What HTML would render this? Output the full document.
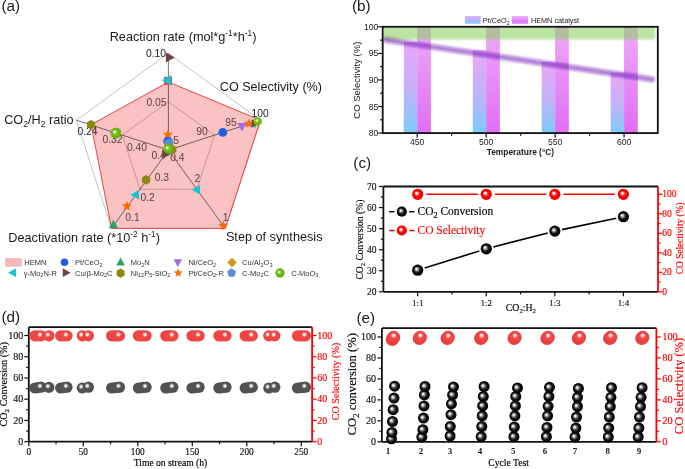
<!DOCTYPE html>
<html><head><meta charset="utf-8"><style>
html,body{margin:0;padding:0;background:#fff;}
svg{display:block;}
</style></head><body>
<svg width="685" height="469" viewBox="0 0 685 469">
<defs>
<radialGradient id="gsph" cx="0.5" cy="0.5" r="0.5" fx="0.36" fy="0.36">
 <stop offset="0" stop-color="#ffffff"/><stop offset="0.12" stop-color="#f2fae6"/><stop offset="0.42" stop-color="#7cc41c"/><stop offset="0.7" stop-color="#6ab80c"/><stop offset="1" stop-color="#60ac08"/>
</radialGradient>
<radialGradient id="gblk" cx="0.5" cy="0.5" r="0.5" fx="0.37" fy="0.37">
 <stop offset="0" stop-color="#ffffff"/><stop offset="0.13" stop-color="#ececec"/><stop offset="0.4" stop-color="#5a5a5a"/><stop offset="0.6" stop-color="#0c0c0c"/><stop offset="1" stop-color="#000"/>
</radialGradient>
<radialGradient id="gblk2" cx="0.5" cy="0.5" r="0.5" fx="0.36" fy="0.4">
 <stop offset="0" stop-color="#ffffff"/><stop offset="0.12" stop-color="#f2f2f2"/><stop offset="0.38" stop-color="#6a6a6a"/><stop offset="0.62" stop-color="#121212"/><stop offset="1" stop-color="#000"/>
</radialGradient>
<radialGradient id="gred" cx="0.5" cy="0.5" r="0.5" fx="0.37" fy="0.37">
 <stop offset="0" stop-color="#ffffff"/><stop offset="0.14" stop-color="#fff0f0"/><stop offset="0.42" stop-color="#ff3a3a"/><stop offset="0.58" stop-color="#ff0000"/><stop offset="1" stop-color="#f00000"/>
</radialGradient>
<radialGradient id="gredd" cx="0.5" cy="0.5" r="0.5" fx="0.45" fy="0.35">
 <stop offset="0" stop-color="#ffffff"/><stop offset="0.22" stop-color="#fbd0d0"/><stop offset="0.42" stop-color="#f04a4a"/><stop offset="1" stop-color="#e83c3c"/>
</radialGradient>
<radialGradient id="grede" cx="0.5" cy="0.5" r="0.5" fx="0.5" fy="0.3">
 <stop offset="0" stop-color="#ffffff"/><stop offset="0.2" stop-color="#fbd0d0"/><stop offset="0.42" stop-color="#f04a4a"/><stop offset="1" stop-color="#e83c3c"/>
</radialGradient>
<radialGradient id="ggry" cx="0.5" cy="0.5" r="0.5" fx="0.45" fy="0.35">
 <stop offset="0" stop-color="#ffffff"/><stop offset="0.22" stop-color="#c8c8c8"/><stop offset="0.42" stop-color="#585858"/><stop offset="1" stop-color="#4a4a4a"/>
</radialGradient>
<linearGradient id="gpt" x1="0" y1="0" x2="0" y2="1">
 <stop offset="0" stop-color="#eaa6f6"/><stop offset="0.5" stop-color="#c4b2f8"/><stop offset="1" stop-color="#7ccbfb"/>
</linearGradient>
<linearGradient id="ghe" x1="0" y1="0" x2="0" y2="1">
 <stop offset="0" stop-color="#eeaaf8"/><stop offset="1" stop-color="#e06ef4"/>
</linearGradient>
<linearGradient id="gptl" x1="0" y1="0" x2="0" y2="1">
 <stop offset="0" stop-color="#e2a8f4"/><stop offset="1" stop-color="#82cafa"/>
</linearGradient>
<linearGradient id="ghel" x1="0" y1="0" x2="0" y2="1">
 <stop offset="0" stop-color="#eca6f8"/><stop offset="1" stop-color="#e070f4"/>
</linearGradient>
<clipPath id="clipB"><rect x="384.1" y="28.1" width="273" height="20"/></clipPath>
<radialGradient id="ghl" cx="0.5" cy="0.5" r="0.5"><stop offset="0" stop-color="#fff" stop-opacity="1"/><stop offset="0.3" stop-color="#fff" stop-opacity="0.9"/><stop offset="1" stop-color="#fff" stop-opacity="0"/></radialGradient>
<filter id="blur1" x="-10%" y="-100%" width="120%" height="300%"><feGaussianBlur stdDeviation="1.3"/></filter>
</defs>
<rect width="685" height="469" fill="#fff"/>
<g id="panelA">
<text x="1.50" y="11.20" font-family='"Liberation Sans", sans-serif' font-size="15.3" fill="#222" text-anchor="start" font-weight="normal" >(a)</text>
<polygon points="168.40,53.30 260.46,120.19 225.30,228.41 111.50,228.41 76.34,120.19" fill="none" stroke="#9a9a9a" stroke-width="0.6"/>
<polygon points="168.40,101.70 214.43,135.14 196.85,189.26 139.95,189.26 122.37,135.14" fill="none" stroke="#a09090" stroke-width="0.55"/>
<line x1="168.4" y1="150.1" x2="168.40" y2="53.30" stroke="#686868" stroke-width="0.9"/>
<line x1="168.4" y1="150.1" x2="260.46" y2="120.19" stroke="#686868" stroke-width="0.9"/>
<line x1="168.4" y1="150.1" x2="225.30" y2="228.41" stroke="#686868" stroke-width="0.9"/>
<line x1="168.4" y1="150.1" x2="111.50" y2="228.41" stroke="#686868" stroke-width="0.9"/>
<line x1="168.4" y1="150.1" x2="76.34" y2="120.19" stroke="#686868" stroke-width="0.9"/>
<text x="156.00" y="57.20" font-family='"Liberation Sans", sans-serif' font-size="10.3" fill="#222" text-anchor="middle" font-weight="normal" >0.10</text>
<text x="156.40" y="105.80" font-family='"Liberation Sans", sans-serif' font-size="10.3" fill="#5e5252" text-anchor="middle" font-weight="normal" >0.05</text>
<text x="260.20" y="116.50" font-family='"Liberation Sans", sans-serif' font-size="10.3" fill="#222" text-anchor="middle" font-weight="normal" >100</text>
<text x="231.00" y="126.10" font-family='"Liberation Sans", sans-serif' font-size="10.3" fill="#5e5252" text-anchor="middle" font-weight="normal" >95</text>
<text x="202.00" y="135.00" font-family='"Liberation Sans", sans-serif' font-size="10.3" fill="#5e5252" text-anchor="middle" font-weight="normal" >90</text>
<text x="176.00" y="144.30" font-family='"Liberation Sans", sans-serif' font-size="10.3" fill="#5e5252" text-anchor="middle" font-weight="normal" >5</text>
<text x="225.60" y="221.20" font-family='"Liberation Sans", sans-serif' font-size="10.3" fill="#5e5252" text-anchor="middle" font-weight="normal" >1</text>
<text x="197.40" y="182.00" font-family='"Liberation Sans", sans-serif' font-size="10.3" fill="#5e5252" text-anchor="middle" font-weight="normal" >2</text>
<text x="132.50" y="221.00" font-family='"Liberation Sans", sans-serif' font-size="10.3" fill="#5e5252" text-anchor="middle" font-weight="normal" >0.1</text>
<text x="147.60" y="200.60" font-family='"Liberation Sans", sans-serif' font-size="10.3" fill="#5e5252" text-anchor="middle" font-weight="normal" >0.2</text>
<text x="161.80" y="180.50" font-family='"Liberation Sans", sans-serif' font-size="10.3" fill="#5e5252" text-anchor="middle" font-weight="normal" >0.3</text>
<text x="177.30" y="160.90" font-family='"Liberation Sans", sans-serif' font-size="10.3" fill="#5e5252" text-anchor="middle" font-weight="normal" >0.4</text>
<text x="87.50" y="135.20" font-family='"Liberation Sans", sans-serif' font-size="10.3" fill="#222" text-anchor="middle" font-weight="normal" >0.24</text>
<text x="112.50" y="142.60" font-family='"Liberation Sans", sans-serif' font-size="10.3" fill="#5e5252" text-anchor="middle" font-weight="normal" >0.32</text>
<text x="136.90" y="151.30" font-family='"Liberation Sans", sans-serif' font-size="10.3" fill="#5e5252" text-anchor="middle" font-weight="normal" >0.40</text>
<text x="158.60" y="159.10" font-family='"Liberation Sans", sans-serif' font-size="10.3" fill="#5e5252" text-anchor="middle" font-weight="normal" >0.4</text>
<polygon points="168.30,82.00 260.46,120.19 225.30,228.41 111.50,228.41 91.10,124.70" fill="#fac2c2" stroke="none" style="mix-blend-mode:multiply"/>
<polygon points="168.30,82.00 260.46,120.19 225.30,228.41 111.50,228.41 91.10,124.70" fill="none" stroke="#ee4444" stroke-width="1.0"/>
<rect x="164.1" y="76.8" width="8" height="8" fill="#f03c3c"/>
<polygon points="174.70,57.50 165.86,52.56 165.86,62.44" fill="#6e4444"/>
<polygon points="161.60,80.20 171.12,74.88 171.12,85.52" fill="#17c3cf"/>
<polygon points="167.90,129.40 169.28,132.71 172.85,132.99 170.13,135.32 170.96,138.81 167.90,136.94 164.84,138.81 165.67,135.32 162.95,132.99 166.52,132.71" fill="#ff6a00"/>
<polygon points="169.00,136.00 173.20,140.20 169.00,144.40 164.80,140.20" fill="#cc9a12"/>
<circle cx="167.80" cy="141.30" r="4.50" fill="#1f5fe0"/>
<polygon points="168.90,138.00 173.85,141.59 171.96,147.41 165.84,147.41 163.95,141.59" fill="#5b8fce"/>
<circle cx="222.80" cy="132.40" r="4.40" fill="#1f5fe0"/>
<polygon points="242.00,131.50 246.75,123.00 237.25,123.00" fill="#a66be0"/>
<polygon points="248.00,123.80 255.65,119.52 255.65,128.07" fill="#17c3cf"/>
<polygon points="249.10,118.40 250.48,121.71 254.05,121.99 251.33,124.32 252.16,127.81 249.10,125.94 246.04,127.81 246.87,124.32 244.15,121.99 247.72,121.71" fill="#ff6a00"/>
<polygon points="259.30,123.50 251.65,119.22 251.65,127.78" fill="#6e4444"/>
<circle cx="257.60" cy="121.40" r="4.20" fill="url(#gsph)"/>
<polygon points="223.00,230.50 226.80,223.70 219.20,223.70" fill="#a66be0"/>
<polygon points="191.50,189.70 200.00,184.95 200.00,194.45" fill="#17c3cf"/>
<polygon points="223.30,221.00 224.57,224.05 227.87,224.32 225.35,226.47 226.12,229.68 223.30,227.96 220.48,229.68 221.25,226.47 218.73,224.32 222.03,224.05" fill="#ff6a00"/>
<polygon points="113.40,219.80 118.15,228.30 108.65,228.30" fill="#2fa36b"/>
<polygon points="126.90,201.00 128.28,204.31 131.85,204.59 129.13,206.92 129.96,210.41 126.90,208.54 123.84,210.41 124.67,206.92 121.95,204.59 125.52,204.31" fill="#ff6a00"/>
<polygon points="130.50,194.70 139.00,189.95 139.00,199.45" fill="#17c3cf"/>
<polygon points="146.10,184.70 141.94,182.30 141.94,177.50 146.10,175.10 150.26,177.50 150.26,182.30" fill="#8a8a0e"/>
<polygon points="170.60,154.20 162.10,149.45 162.10,158.95" fill="#6e4444"/>
<polygon points="91.10,129.50 86.94,127.10 86.94,122.30 91.10,119.90 95.26,122.30 95.26,127.10" fill="#8a8a0e"/>
<polygon points="109.60,133.00 119.12,127.68 119.12,138.32" fill="#17c3cf"/>
<polygon points="116.30,139.00 121.43,129.82 111.17,129.82" fill="#a66be0"/>
<polygon points="116.00,127.00 117.59,130.82 121.71,131.15 118.57,133.83 119.53,137.85 116.00,135.70 112.47,137.85 113.43,133.83 110.29,131.15 114.41,130.82" fill="#ff6a00"/>
<circle cx="115.70" cy="133.00" r="5.20" fill="url(#gsph)"/>
<polygon points="172.20,154.30 168.04,151.90 168.04,147.10 172.20,144.70 176.36,147.10 176.36,151.90" fill="#8a8a0e"/>
<circle cx="168.20" cy="148.80" r="5.00" fill="url(#gsph)"/>
<text x="109.70" y="40.80" font-family='"Liberation Sans", sans-serif' font-size="12.7" fill="#1a1a1a" text-anchor="start" font-weight="normal" >Reaction rate (mol*g<tspan font-size="8.3" dy="-5">-1</tspan><tspan dy="5">*h</tspan><tspan font-size="8.3" dy="-5">-1</tspan><tspan dy="5">)</tspan></text>
<text x="219.80" y="91.00" font-family='"Liberation Sans", sans-serif' font-size="12.6" fill="#1a1a1a" text-anchor="start" font-weight="normal" >CO Selectivity (%)</text>
<text x="4.20" y="124.40" font-family='"Liberation Sans", sans-serif' font-size="12.7" fill="#1a1a1a" text-anchor="start" font-weight="normal" >CO<tspan font-size="8.5" dy="3">2</tspan><tspan dy="-3">/H</tspan><tspan font-size="8.5" dy="3">2</tspan><tspan dy="-3"> ratio</tspan></text>
<text x="8.30" y="242.40" font-family='"Liberation Sans", sans-serif' font-size="12.7" fill="#1a1a1a" text-anchor="start" font-weight="normal" >Deactivation rate (*10<tspan font-size="8.3" dy="-5">-2</tspan><tspan dy="5"> h</tspan><tspan font-size="8.3" dy="-5">-1</tspan><tspan dy="5">)</tspan></text>
<text x="225.90" y="241.00" font-family='"Liberation Sans", sans-serif' font-size="12.7" fill="#1a1a1a" text-anchor="start" font-weight="normal" >Step of synthesis</text>
<rect x="5.3" y="258.6" width="16.1" height="7.6" fill="#f6b8b8" stroke="#e7a2a2" stroke-width="0.5"/>
<text x="24.30" y="265.30" font-family='"Liberation Sans", sans-serif' font-size="7.5" fill="#333" text-anchor="start" font-weight="normal" >HEMN</text>
<circle cx="64.50" cy="262.30" r="3.80" fill="#1f5fe0"/>
<text x="75.00" y="265.30" font-family='"Liberation Sans", sans-serif' font-size="7.5" fill="#333" text-anchor="start" font-weight="normal" >Pt/CeO<tspan font-size="5.6" dy="1.8">2</tspan><tspan dy="-1.8"></tspan></text>
<polygon points="120.60,257.60 124.97,265.42 116.23,265.42" fill="#2fa36b"/>
<text x="130.80" y="265.30" font-family='"Liberation Sans", sans-serif' font-size="7.5" fill="#333" text-anchor="start" font-weight="normal" >Mo<tspan font-size="5.6" dy="1.8">2</tspan><tspan dy="-1.8">N</tspan></text>
<polygon points="177.80,267.10 182.17,259.28 173.43,259.28" fill="#a66be0"/>
<text x="188.40" y="265.30" font-family='"Liberation Sans", sans-serif' font-size="7.5" fill="#333" text-anchor="start" font-weight="normal" >Ni/CeO<tspan font-size="5.6" dy="1.8">2</tspan><tspan dy="-1.8"></tspan></text>
<polygon points="232.00,257.70 236.80,262.50 232.00,267.30 227.20,262.50" fill="#cc9a12"/>
<text x="242.10" y="265.30" font-family='"Liberation Sans", sans-serif' font-size="7.5" fill="#333" text-anchor="start" font-weight="normal" >Cu/Al<tspan font-size="5.6" dy="1.8">2</tspan><tspan dy="-1.8">O</tspan><tspan font-size="5.6" dy="1.8">3</tspan><tspan dy="-1.8"></tspan></text>
<polygon points="8.10,272.70 15.92,268.33 15.92,277.07" fill="#17c3cf"/>
<text x="23.70" y="275.60" font-family='"Liberation Sans", sans-serif' font-size="7.5" fill="#333" text-anchor="start" font-weight="normal" >γ-Mo<tspan font-size="5.6" dy="1.8">2</tspan><tspan dy="-1.8">N-R</tspan></text>
<polygon points="70.60,272.70 62.78,268.33 62.78,277.07" fill="#6e4444"/>
<text x="75.00" y="275.60" font-family='"Liberation Sans", sans-serif' font-size="7.5" fill="#333" text-anchor="start" font-weight="normal" >Cu/β-Mo<tspan font-size="5.6" dy="1.8">2</tspan><tspan dy="-1.8">C</tspan></text>
<polygon points="120.60,277.70 116.62,275.40 116.62,270.80 120.60,268.50 124.58,270.80 124.58,275.40" fill="#8a8a0e"/>
<text x="130.80" y="275.60" font-family='"Liberation Sans", sans-serif' font-size="7.5" fill="#333" text-anchor="start" font-weight="normal" >Ni<tspan font-size="5.6" dy="1.8">12</tspan><tspan dy="-1.8">P</tspan><tspan font-size="5.6" dy="1.8">5</tspan><tspan dy="-1.8">-SiO</tspan><tspan font-size="5.6" dy="1.8">2</tspan><tspan dy="-1.8"></tspan></text>
<polygon points="178.20,268.40 179.42,271.33 182.57,271.58 180.17,273.64 180.90,276.72 178.20,275.07 175.50,276.72 176.23,273.64 173.83,271.58 176.98,271.33" fill="#ff6a00"/>
<text x="188.40" y="275.60" font-family='"Liberation Sans", sans-serif' font-size="7.5" fill="#333" text-anchor="start" font-weight="normal" >Pt/CeO<tspan font-size="5.6" dy="1.8">2</tspan><tspan dy="-1.8">-R</tspan></text>
<polygon points="231.60,268.20 236.07,271.45 234.36,276.70 228.84,276.70 227.13,271.45" fill="#5b8fce"/>
<text x="242.10" y="275.60" font-family='"Liberation Sans", sans-serif' font-size="7.5" fill="#333" text-anchor="start" font-weight="normal" >C-Mo<tspan font-size="5.6" dy="1.8">2</tspan><tspan dy="-1.8">C</tspan></text>
<circle cx="280.00" cy="272.90" r="4.60" fill="url(#gsph)"/>
<text x="291.20" y="275.60" font-family='"Liberation Sans", sans-serif' font-size="7.5" fill="#333" text-anchor="start" font-weight="normal" >C-MoO<tspan font-size="5.6" dy="1.8">3</tspan><tspan dy="-1.8"></tspan></text>
</g>
<g id="panelB">
<text x="351.90" y="10.60" font-family='"Liberation Sans", sans-serif' font-size="15.3" fill="#1a1a1a" text-anchor="start" font-weight="normal" >(b)</text>
<rect x="403.78" y="42.21" width="13.4" height="90.89" fill="url(#gpt)"/>
<rect x="417.18" y="26.80" width="13.7" height="106.30" fill="url(#ghe)"/>
<rect x="472.75" y="50.19" width="13.4" height="82.91" fill="url(#gpt)"/>
<rect x="486.15" y="26.80" width="13.7" height="106.30" fill="url(#ghe)"/>
<rect x="541.71" y="61.88" width="13.4" height="71.22" fill="url(#gpt)"/>
<rect x="555.11" y="26.80" width="13.7" height="106.30" fill="url(#ghe)"/>
<rect x="610.68" y="72.51" width="13.4" height="60.59" fill="url(#gpt)"/>
<rect x="624.08" y="26.80" width="13.7" height="106.30" fill="url(#ghe)"/>
<g opacity="0.56" clip-path="url(#clipB)"><rect x="378" y="25.5" width="277" height="14.0" rx="2" fill="#88d05c" filter="url(#blur1)"/></g>
<line x1="386" y1="35.3" x2="652" y2="35.3" stroke="#9fd08c" stroke-width="0.4" stroke-dasharray="1.6,1.2"/>
<g style="mix-blend-mode:multiply"><line x1="386" y1="40" x2="652" y2="79.4" stroke="#bb92de" stroke-width="6.2" stroke-linecap="round" filter="url(#blur1)"/></g>
<line x1="386" y1="40" x2="652" y2="79.4" stroke="#7c4cae" stroke-width="0.5" stroke-dasharray="1.8,1.2"/>
<rect x="382.7" y="26.8" width="275.09999999999997" height="106.3" fill="none" stroke="#111" stroke-width="1.8"/>
<line x1="378.20" y1="133.10" x2="382.7" y2="133.10" stroke="#111" stroke-width="1.2"/>
<text x="378.30" y="136.10" font-family='"Liberation Sans", sans-serif' font-size="8.6" fill="#1a1a1a" text-anchor="end" font-weight="normal" >80</text>
<line x1="380.10" y1="119.81" x2="382.7" y2="119.81" stroke="#111" stroke-width="1.2"/>
<line x1="378.20" y1="106.52" x2="382.7" y2="106.52" stroke="#111" stroke-width="1.2"/>
<text x="378.30" y="109.52" font-family='"Liberation Sans", sans-serif' font-size="8.6" fill="#1a1a1a" text-anchor="end" font-weight="normal" >85</text>
<line x1="380.10" y1="93.24" x2="382.7" y2="93.24" stroke="#111" stroke-width="1.2"/>
<line x1="378.20" y1="79.95" x2="382.7" y2="79.95" stroke="#111" stroke-width="1.2"/>
<text x="378.30" y="82.95" font-family='"Liberation Sans", sans-serif' font-size="8.6" fill="#1a1a1a" text-anchor="end" font-weight="normal" >90</text>
<line x1="380.10" y1="66.66" x2="382.7" y2="66.66" stroke="#111" stroke-width="1.2"/>
<line x1="378.20" y1="53.38" x2="382.7" y2="53.38" stroke="#111" stroke-width="1.2"/>
<text x="378.30" y="56.38" font-family='"Liberation Sans", sans-serif' font-size="8.6" fill="#1a1a1a" text-anchor="end" font-weight="normal" >95</text>
<line x1="380.10" y1="40.09" x2="382.7" y2="40.09" stroke="#111" stroke-width="1.2"/>
<line x1="378.20" y1="26.80" x2="382.7" y2="26.80" stroke="#111" stroke-width="1.2"/>
<text x="378.30" y="29.80" font-family='"Liberation Sans", sans-serif' font-size="8.6" fill="#1a1a1a" text-anchor="end" font-weight="normal" >100</text>
<line x1="417.18" y1="133.1" x2="417.18" y2="137.60" stroke="#111" stroke-width="1.2"/>
<text x="417.18" y="145.00" font-family='"Liberation Sans", sans-serif' font-size="8.6" fill="#1a1a1a" text-anchor="middle" font-weight="normal" >450</text>
<line x1="451.66" y1="133.1" x2="451.66" y2="135.70" stroke="#111" stroke-width="1.2"/>
<line x1="486.15" y1="133.1" x2="486.15" y2="137.60" stroke="#111" stroke-width="1.2"/>
<text x="486.15" y="145.00" font-family='"Liberation Sans", sans-serif' font-size="8.6" fill="#1a1a1a" text-anchor="middle" font-weight="normal" >500</text>
<line x1="520.63" y1="133.1" x2="520.63" y2="135.70" stroke="#111" stroke-width="1.2"/>
<line x1="555.11" y1="133.1" x2="555.11" y2="137.60" stroke="#111" stroke-width="1.2"/>
<text x="555.11" y="145.00" font-family='"Liberation Sans", sans-serif' font-size="8.6" fill="#1a1a1a" text-anchor="middle" font-weight="normal" >550</text>
<line x1="589.60" y1="133.1" x2="589.60" y2="135.70" stroke="#111" stroke-width="1.2"/>
<line x1="624.08" y1="133.1" x2="624.08" y2="137.60" stroke="#111" stroke-width="1.2"/>
<text x="624.08" y="145.00" font-family='"Liberation Sans", sans-serif' font-size="8.6" fill="#1a1a1a" text-anchor="middle" font-weight="normal" >600</text>
<text x="520.40" y="155.40" font-family='"Liberation Sans", sans-serif' font-size="8.4" fill="#1a1a1a" text-anchor="middle" font-weight="bold" >Temperature (°C)</text>
<text x="0.00" y="0.00" font-family='"Liberation Sans", sans-serif' font-size="9.5" fill="#1a1a1a" text-anchor="middle" font-weight="normal" transform="translate(360.3,80.2) rotate(-90)">CO Selectivity (%)</text>
<rect x="464.9" y="16.1" width="15.8" height="7.6" fill="url(#gptl)"/>
<text x="482.80" y="23.00" font-family='"Liberation Sans", sans-serif' font-size="7.3" fill="#1a1a1a" text-anchor="start" font-weight="normal" >Pt/CeO<tspan font-size="5.2" dy="1.6">2</tspan></text>
<rect x="512" y="16.1" width="16" height="7.6" fill="url(#ghel)"/>
<text x="530.90" y="23.00" font-family='"Liberation Sans", sans-serif' font-size="7.3" fill="#1a1a1a" text-anchor="start" font-weight="normal" >HEMN catalyst</text>
</g>
<g id="panelC">
<text x="353.30" y="168.10" font-family='"Liberation Sans", sans-serif' font-size="15.3" fill="#1a1a1a" text-anchor="start" font-weight="normal" >(c)</text>
<line x1="383.4" y1="186.5" x2="658.0" y2="186.5" stroke="#111" stroke-width="1.8"/>
<line x1="383.4" y1="291.8" x2="658.0" y2="291.8" stroke="#111" stroke-width="1.8"/>
<line x1="383.4" y1="186.5" x2="383.4" y2="291.8" stroke="#111" stroke-width="1.8"/>
<line x1="658.0" y1="186.5" x2="658.0" y2="291.8" stroke="#ff0000" stroke-width="1.8"/>
<line x1="378.9" y1="291.80" x2="383.4" y2="291.80" stroke="#111" stroke-width="1.2"/>
<text x="376.40" y="294.80" font-family='"Liberation Serif", serif' font-size="9.5" fill="#1a1a1a" text-anchor="end" font-weight="normal" stroke="#000" stroke-width="0.15">20</text>
<line x1="380.79999999999995" y1="281.27" x2="383.4" y2="281.27" stroke="#111" stroke-width="1.2"/>
<line x1="378.9" y1="270.74" x2="383.4" y2="270.74" stroke="#111" stroke-width="1.2"/>
<text x="376.40" y="273.74" font-family='"Liberation Serif", serif' font-size="9.5" fill="#1a1a1a" text-anchor="end" font-weight="normal" stroke="#000" stroke-width="0.15">30</text>
<line x1="380.79999999999995" y1="260.21" x2="383.4" y2="260.21" stroke="#111" stroke-width="1.2"/>
<line x1="378.9" y1="249.68" x2="383.4" y2="249.68" stroke="#111" stroke-width="1.2"/>
<text x="376.40" y="252.68" font-family='"Liberation Serif", serif' font-size="9.5" fill="#1a1a1a" text-anchor="end" font-weight="normal" stroke="#000" stroke-width="0.15">40</text>
<line x1="380.79999999999995" y1="239.15" x2="383.4" y2="239.15" stroke="#111" stroke-width="1.2"/>
<line x1="378.9" y1="228.62" x2="383.4" y2="228.62" stroke="#111" stroke-width="1.2"/>
<text x="376.40" y="231.62" font-family='"Liberation Serif", serif' font-size="9.5" fill="#1a1a1a" text-anchor="end" font-weight="normal" stroke="#000" stroke-width="0.15">50</text>
<line x1="380.79999999999995" y1="218.09" x2="383.4" y2="218.09" stroke="#111" stroke-width="1.2"/>
<line x1="378.9" y1="207.56" x2="383.4" y2="207.56" stroke="#111" stroke-width="1.2"/>
<text x="376.40" y="210.56" font-family='"Liberation Serif", serif' font-size="9.5" fill="#1a1a1a" text-anchor="end" font-weight="normal" stroke="#000" stroke-width="0.15">60</text>
<line x1="380.79999999999995" y1="197.03" x2="383.4" y2="197.03" stroke="#111" stroke-width="1.2"/>
<line x1="378.9" y1="186.50" x2="383.4" y2="186.50" stroke="#111" stroke-width="1.2"/>
<text x="376.40" y="189.50" font-family='"Liberation Serif", serif' font-size="9.5" fill="#1a1a1a" text-anchor="end" font-weight="normal" stroke="#000" stroke-width="0.15">70</text>
<line x1="658.0" y1="291.80" x2="662.5" y2="291.80" stroke="#ff0000" stroke-width="1.2"/>
<text x="662.30" y="294.80" font-family='"Liberation Serif", serif' font-size="9.5" fill="#ff0000" text-anchor="start" font-weight="normal" stroke="#ff0000" stroke-width="0.15">0</text>
<line x1="658.0" y1="282.05" x2="660.6" y2="282.05" stroke="#ff0000" stroke-width="1.2"/>
<line x1="658.0" y1="272.30" x2="662.5" y2="272.30" stroke="#ff0000" stroke-width="1.2"/>
<text x="662.30" y="275.30" font-family='"Liberation Serif", serif' font-size="9.5" fill="#ff0000" text-anchor="start" font-weight="normal" stroke="#ff0000" stroke-width="0.15">20</text>
<line x1="658.0" y1="262.55" x2="660.6" y2="262.55" stroke="#ff0000" stroke-width="1.2"/>
<line x1="658.0" y1="252.80" x2="662.5" y2="252.80" stroke="#ff0000" stroke-width="1.2"/>
<text x="662.30" y="255.80" font-family='"Liberation Serif", serif' font-size="9.5" fill="#ff0000" text-anchor="start" font-weight="normal" stroke="#ff0000" stroke-width="0.15">40</text>
<line x1="658.0" y1="243.05" x2="660.6" y2="243.05" stroke="#ff0000" stroke-width="1.2"/>
<line x1="658.0" y1="233.30" x2="662.5" y2="233.30" stroke="#ff0000" stroke-width="1.2"/>
<text x="662.30" y="236.30" font-family='"Liberation Serif", serif' font-size="9.5" fill="#ff0000" text-anchor="start" font-weight="normal" stroke="#ff0000" stroke-width="0.15">60</text>
<line x1="658.0" y1="223.55" x2="660.6" y2="223.55" stroke="#ff0000" stroke-width="1.2"/>
<line x1="658.0" y1="213.80" x2="662.5" y2="213.80" stroke="#ff0000" stroke-width="1.2"/>
<text x="662.30" y="216.80" font-family='"Liberation Serif", serif' font-size="9.5" fill="#ff0000" text-anchor="start" font-weight="normal" stroke="#ff0000" stroke-width="0.15">80</text>
<line x1="658.0" y1="204.05" x2="660.6" y2="204.05" stroke="#ff0000" stroke-width="1.2"/>
<line x1="658.0" y1="194.30" x2="662.5" y2="194.30" stroke="#ff0000" stroke-width="1.2"/>
<text x="662.30" y="197.30" font-family='"Liberation Serif", serif' font-size="9.5" fill="#ff0000" text-anchor="start" font-weight="normal" stroke="#ff0000" stroke-width="0.15">100</text>
<line x1="417.68" y1="291.8" x2="417.68" y2="296.3" stroke="#111" stroke-width="1.2"/>
<text x="417.68" y="306.20" font-family='"Liberation Serif", serif' font-size="9" fill="#1a1a1a" text-anchor="middle" font-weight="normal" stroke="#000" stroke-width="0.15">1:1</text>
<line x1="451.97" y1="291.8" x2="451.97" y2="294.40000000000003" stroke="#111" stroke-width="1.2"/>
<line x1="486.25" y1="291.8" x2="486.25" y2="296.3" stroke="#111" stroke-width="1.2"/>
<text x="486.25" y="306.20" font-family='"Liberation Serif", serif' font-size="9" fill="#1a1a1a" text-anchor="middle" font-weight="normal" stroke="#000" stroke-width="0.15">1:2</text>
<line x1="520.54" y1="291.8" x2="520.54" y2="294.40000000000003" stroke="#111" stroke-width="1.2"/>
<line x1="554.82" y1="291.8" x2="554.82" y2="296.3" stroke="#111" stroke-width="1.2"/>
<text x="554.82" y="306.20" font-family='"Liberation Serif", serif' font-size="9" fill="#1a1a1a" text-anchor="middle" font-weight="normal" stroke="#000" stroke-width="0.15">1:3</text>
<line x1="589.11" y1="291.8" x2="589.11" y2="294.40000000000003" stroke="#111" stroke-width="1.2"/>
<line x1="623.39" y1="291.8" x2="623.39" y2="296.3" stroke="#111" stroke-width="1.2"/>
<text x="623.39" y="306.20" font-family='"Liberation Serif", serif' font-size="9" fill="#1a1a1a" text-anchor="middle" font-weight="normal" stroke="#000" stroke-width="0.15">1:4</text>
<text x="520.90" y="310.60" font-family='"Liberation Serif", serif' font-size="9.8" fill="#000" text-anchor="middle" font-weight="normal" stroke="#000" stroke-width="0.15">CO<tspan font-size="6.8" dy="2.2">2</tspan><tspan dy="-2.2">:H</tspan><tspan font-size="6.8" dy="2.2">2</tspan></text>
<text x="0.00" y="0.00" font-family='"Liberation Serif", serif' font-size="9.6" fill="#000" text-anchor="middle" font-weight="normal" transform="translate(363.3,239.6) rotate(-90)" stroke="#000" stroke-width="0.15">CO<tspan font-size="6.6" dy="2">2</tspan><tspan dy="-2"> Conversion (%)</tspan></text>
<text x="0.00" y="0.00" font-family='"Liberation Serif", serif' font-size="9.4" fill="#ff0000" text-anchor="middle" font-weight="normal" transform="translate(683.3,238.3) rotate(-90)" stroke="#ff0000" stroke-width="0.15">CO Selectivity (%)</text>
<line x1="424.67" y1="268.03" x2="479.30" y2="250.97" stroke="#000" stroke-width="1.6"/>
<line x1="426.30" y1="194.30" x2="477.67" y2="194.30" stroke="#ff0000" stroke-width="1.4"/>
<line x1="493.34" y1="246.98" x2="547.77" y2="232.92" stroke="#000" stroke-width="1.6"/>
<line x1="494.87" y1="194.30" x2="546.24" y2="194.30" stroke="#ff0000" stroke-width="1.4"/>
<line x1="561.98" y1="229.60" x2="616.27" y2="218.20" stroke="#000" stroke-width="1.6"/>
<line x1="563.44" y1="194.30" x2="614.81" y2="194.30" stroke="#ff0000" stroke-width="1.4"/>
<circle cx="417.70" cy="270.20" r="5.6" fill="url(#gblk)"/>
<circle cx="486.27" cy="248.80" r="5.6" fill="url(#gblk)"/>
<circle cx="554.84" cy="231.10" r="5.6" fill="url(#gblk)"/>
<circle cx="623.41" cy="216.70" r="5.6" fill="url(#gblk)"/>
<circle cx="417.70" cy="194.3" r="5.6" fill="url(#gred)"/>
<circle cx="486.27" cy="194.3" r="5.6" fill="url(#gred)"/>
<circle cx="554.84" cy="194.3" r="5.6" fill="url(#gred)"/>
<circle cx="623.41" cy="194.3" r="5.6" fill="url(#gred)"/>
<line x1="389.2" y1="211.7" x2="394.4" y2="211.7" stroke="#000" stroke-width="1.5"/>
<line x1="409.2" y1="211.7" x2="414.4" y2="211.7" stroke="#000" stroke-width="1.5"/>
<circle cx="401.8" cy="211.7" r="5.1" fill="url(#gblk)"/>
<line x1="389.2" y1="230.5" x2="394.4" y2="230.5" stroke="#ff0000" stroke-width="1.5"/>
<line x1="409.2" y1="230.5" x2="414.4" y2="230.5" stroke="#ff0000" stroke-width="1.5"/>
<circle cx="401.8" cy="230.5" r="5.1" fill="url(#gred)"/>
<text x="417.60" y="215.20" font-family='"Liberation Serif", serif' font-size="11.45" fill="#000" text-anchor="start" font-weight="normal" stroke="#000" stroke-width="0.15">CO<tspan font-size="8.1" dy="2.5">2</tspan><tspan dy="-2.5"> Conversion</tspan></text>
<text x="417.60" y="234.10" font-family='"Liberation Serif", serif' font-size="11.45" fill="#ff0000" text-anchor="start" font-weight="normal" stroke="#ff0000" stroke-width="0.15">CO Selectivity</text>
</g>
<g id="panelD">
<text x="1.40" y="322.40" font-family='"Liberation Sans", sans-serif' font-size="15.3" fill="#1a1a1a" text-anchor="start" font-weight="normal" >(d)</text>
<line x1="28.8" y1="327.1" x2="312.1" y2="327.1" stroke="#111" stroke-width="1.8"/>
<line x1="28.8" y1="441.7" x2="312.1" y2="441.7" stroke="#111" stroke-width="1.8"/>
<line x1="28.8" y1="327.1" x2="28.8" y2="441.7" stroke="#111" stroke-width="1.8"/>
<line x1="312.1" y1="327.1" x2="312.1" y2="441.7" stroke="#ff0000" stroke-width="1.8"/>
<line x1="24.3" y1="441.70" x2="28.8" y2="441.70" stroke="#111" stroke-width="1.2"/>
<line x1="312.1" y1="441.70" x2="316.6" y2="441.70" stroke="#ff0000" stroke-width="1.2"/>
<text x="23.20" y="444.90" font-family='"Liberation Serif", serif' font-size="10" fill="#1a1a1a" text-anchor="end" font-weight="normal" stroke="#000" stroke-width="0.15">0</text>
<text x="317.30" y="444.90" font-family='"Liberation Serif", serif' font-size="10" fill="#ff0000" text-anchor="start" font-weight="normal" stroke="#ff0000" stroke-width="0.15">0</text>
<line x1="26.2" y1="431.08" x2="28.8" y2="431.08" stroke="#111" stroke-width="1.2"/>
<line x1="312.1" y1="431.08" x2="314.70000000000005" y2="431.08" stroke="#ff0000" stroke-width="1.2"/>
<line x1="24.3" y1="420.46" x2="28.8" y2="420.46" stroke="#111" stroke-width="1.2"/>
<line x1="312.1" y1="420.46" x2="316.6" y2="420.46" stroke="#ff0000" stroke-width="1.2"/>
<text x="23.20" y="423.66" font-family='"Liberation Serif", serif' font-size="10" fill="#1a1a1a" text-anchor="end" font-weight="normal" stroke="#000" stroke-width="0.15">20</text>
<text x="317.30" y="423.66" font-family='"Liberation Serif", serif' font-size="10" fill="#ff0000" text-anchor="start" font-weight="normal" stroke="#ff0000" stroke-width="0.15">20</text>
<line x1="26.2" y1="409.84" x2="28.8" y2="409.84" stroke="#111" stroke-width="1.2"/>
<line x1="312.1" y1="409.84" x2="314.70000000000005" y2="409.84" stroke="#ff0000" stroke-width="1.2"/>
<line x1="24.3" y1="399.22" x2="28.8" y2="399.22" stroke="#111" stroke-width="1.2"/>
<line x1="312.1" y1="399.22" x2="316.6" y2="399.22" stroke="#ff0000" stroke-width="1.2"/>
<text x="23.20" y="402.42" font-family='"Liberation Serif", serif' font-size="10" fill="#1a1a1a" text-anchor="end" font-weight="normal" stroke="#000" stroke-width="0.15">40</text>
<text x="317.30" y="402.42" font-family='"Liberation Serif", serif' font-size="10" fill="#ff0000" text-anchor="start" font-weight="normal" stroke="#ff0000" stroke-width="0.15">40</text>
<line x1="26.2" y1="388.60" x2="28.8" y2="388.60" stroke="#111" stroke-width="1.2"/>
<line x1="312.1" y1="388.60" x2="314.70000000000005" y2="388.60" stroke="#ff0000" stroke-width="1.2"/>
<line x1="24.3" y1="377.98" x2="28.8" y2="377.98" stroke="#111" stroke-width="1.2"/>
<line x1="312.1" y1="377.98" x2="316.6" y2="377.98" stroke="#ff0000" stroke-width="1.2"/>
<text x="23.20" y="381.18" font-family='"Liberation Serif", serif' font-size="10" fill="#1a1a1a" text-anchor="end" font-weight="normal" stroke="#000" stroke-width="0.15">60</text>
<text x="317.30" y="381.18" font-family='"Liberation Serif", serif' font-size="10" fill="#ff0000" text-anchor="start" font-weight="normal" stroke="#ff0000" stroke-width="0.15">60</text>
<line x1="26.2" y1="367.36" x2="28.8" y2="367.36" stroke="#111" stroke-width="1.2"/>
<line x1="312.1" y1="367.36" x2="314.70000000000005" y2="367.36" stroke="#ff0000" stroke-width="1.2"/>
<line x1="24.3" y1="356.74" x2="28.8" y2="356.74" stroke="#111" stroke-width="1.2"/>
<line x1="312.1" y1="356.74" x2="316.6" y2="356.74" stroke="#ff0000" stroke-width="1.2"/>
<text x="23.20" y="359.94" font-family='"Liberation Serif", serif' font-size="10" fill="#1a1a1a" text-anchor="end" font-weight="normal" stroke="#000" stroke-width="0.15">80</text>
<text x="317.30" y="359.94" font-family='"Liberation Serif", serif' font-size="10" fill="#ff0000" text-anchor="start" font-weight="normal" stroke="#ff0000" stroke-width="0.15">80</text>
<line x1="26.2" y1="346.12" x2="28.8" y2="346.12" stroke="#111" stroke-width="1.2"/>
<line x1="312.1" y1="346.12" x2="314.70000000000005" y2="346.12" stroke="#ff0000" stroke-width="1.2"/>
<line x1="24.3" y1="335.50" x2="28.8" y2="335.50" stroke="#111" stroke-width="1.2"/>
<line x1="312.1" y1="335.50" x2="316.6" y2="335.50" stroke="#ff0000" stroke-width="1.2"/>
<text x="23.20" y="338.70" font-family='"Liberation Serif", serif' font-size="10" fill="#1a1a1a" text-anchor="end" font-weight="normal" stroke="#000" stroke-width="0.15">100</text>
<text x="317.30" y="338.70" font-family='"Liberation Serif", serif' font-size="10" fill="#ff0000" text-anchor="start" font-weight="normal" stroke="#ff0000" stroke-width="0.15">100</text>
<line x1="28.80" y1="441.7" x2="28.80" y2="446.2" stroke="#111" stroke-width="1.2"/>
<text x="28.80" y="455.20" font-family='"Liberation Serif", serif' font-size="9.3" fill="#1a1a1a" text-anchor="middle" font-weight="normal" stroke="#000" stroke-width="0.15">0</text>
<line x1="56.05" y1="441.7" x2="56.05" y2="444.3" stroke="#111" stroke-width="1.2"/>
<line x1="83.30" y1="441.7" x2="83.30" y2="446.2" stroke="#111" stroke-width="1.2"/>
<text x="83.30" y="455.20" font-family='"Liberation Serif", serif' font-size="9.3" fill="#1a1a1a" text-anchor="middle" font-weight="normal" stroke="#000" stroke-width="0.15">50</text>
<line x1="110.55" y1="441.7" x2="110.55" y2="444.3" stroke="#111" stroke-width="1.2"/>
<line x1="137.80" y1="441.7" x2="137.80" y2="446.2" stroke="#111" stroke-width="1.2"/>
<text x="137.80" y="455.20" font-family='"Liberation Serif", serif' font-size="9.3" fill="#1a1a1a" text-anchor="middle" font-weight="normal" stroke="#000" stroke-width="0.15">100</text>
<line x1="165.05" y1="441.7" x2="165.05" y2="444.3" stroke="#111" stroke-width="1.2"/>
<line x1="192.30" y1="441.7" x2="192.30" y2="446.2" stroke="#111" stroke-width="1.2"/>
<text x="192.30" y="455.20" font-family='"Liberation Serif", serif' font-size="9.3" fill="#1a1a1a" text-anchor="middle" font-weight="normal" stroke="#000" stroke-width="0.15">150</text>
<line x1="219.55" y1="441.7" x2="219.55" y2="444.3" stroke="#111" stroke-width="1.2"/>
<line x1="246.80" y1="441.7" x2="246.80" y2="446.2" stroke="#111" stroke-width="1.2"/>
<text x="246.80" y="455.20" font-family='"Liberation Serif", serif' font-size="9.3" fill="#1a1a1a" text-anchor="middle" font-weight="normal" stroke="#000" stroke-width="0.15">200</text>
<line x1="274.05" y1="441.7" x2="274.05" y2="444.3" stroke="#111" stroke-width="1.2"/>
<line x1="301.30" y1="441.7" x2="301.30" y2="446.2" stroke="#111" stroke-width="1.2"/>
<text x="301.30" y="455.20" font-family='"Liberation Serif", serif' font-size="9.3" fill="#1a1a1a" text-anchor="middle" font-weight="normal" stroke="#000" stroke-width="0.15">250</text>
<text x="170.50" y="465.50" font-family='"Liberation Serif", serif' font-size="9.6" fill="#000" text-anchor="middle" font-weight="normal" stroke="#000" stroke-width="0.15">Time on stream (h)</text>
<text x="0.00" y="0.00" font-family='"Liberation Serif", serif' font-size="10.1" fill="#000" text-anchor="middle" font-weight="normal" transform="translate(7.2,384.3) rotate(-90)" stroke="#000" stroke-width="0.15">CO<tspan font-size="7" dy="2.2">2</tspan><tspan dy="-2.2"> Conversion (%)</tspan></text>
<text x="0.00" y="0.00" font-family='"Liberation Serif", serif' font-size="10.1" fill="#ff0000" text-anchor="middle" font-weight="normal" transform="translate(338.9,381.5) rotate(-90)" stroke="#ff0000" stroke-width="0.15">CO Selectivity (%)</text>
<circle cx="34.90" cy="388.00" r="5.6" fill="#525252"/>
<circle cx="37.95" cy="387.60" r="5.6" fill="#525252"/>
<circle cx="41.00" cy="387.20" r="5.6" fill="#525252"/>
<circle cx="39.90" cy="385.90" r="2.8" fill="url(#ghl)"/>
<circle cx="48.90" cy="387.40" r="5.6" fill="#525252"/>
<circle cx="47.80" cy="386.10" r="2.8" fill="url(#ghl)"/>
<circle cx="60.70" cy="388.00" r="5.6" fill="#525252"/>
<circle cx="63.85" cy="387.60" r="5.6" fill="#525252"/>
<circle cx="67.00" cy="387.20" r="5.6" fill="#525252"/>
<circle cx="65.90" cy="385.90" r="2.8" fill="url(#ghl)"/>
<circle cx="82.30" cy="388.00" r="5.6" fill="#525252"/>
<circle cx="81.20" cy="386.70" r="2.8" fill="url(#ghl)"/>
<circle cx="88.40" cy="387.20" r="5.6" fill="#525252"/>
<circle cx="87.30" cy="385.90" r="2.8" fill="url(#ghl)"/>
<circle cx="111.60" cy="388.00" r="5.6" fill="#525252"/>
<circle cx="114.23" cy="387.73" r="5.6" fill="#525252"/>
<circle cx="116.87" cy="387.47" r="5.6" fill="#525252"/>
<circle cx="119.50" cy="387.20" r="5.6" fill="#525252"/>
<circle cx="118.40" cy="385.90" r="2.8" fill="url(#ghl)"/>
<circle cx="138.40" cy="388.00" r="5.6" fill="#525252"/>
<circle cx="140.97" cy="387.73" r="5.6" fill="#525252"/>
<circle cx="143.53" cy="387.47" r="5.6" fill="#525252"/>
<circle cx="146.10" cy="387.20" r="5.6" fill="#525252"/>
<circle cx="145.00" cy="385.90" r="2.8" fill="url(#ghl)"/>
<circle cx="165.80" cy="388.00" r="5.6" fill="#525252"/>
<circle cx="168.17" cy="387.73" r="5.6" fill="#525252"/>
<circle cx="170.53" cy="387.47" r="5.6" fill="#525252"/>
<circle cx="172.90" cy="387.20" r="5.6" fill="#525252"/>
<circle cx="171.80" cy="385.90" r="2.8" fill="url(#ghl)"/>
<circle cx="192.00" cy="388.00" r="5.6" fill="#525252"/>
<circle cx="194.37" cy="387.73" r="5.6" fill="#525252"/>
<circle cx="196.73" cy="387.47" r="5.6" fill="#525252"/>
<circle cx="199.10" cy="387.20" r="5.6" fill="#525252"/>
<circle cx="198.00" cy="385.90" r="2.8" fill="url(#ghl)"/>
<circle cx="218.90" cy="388.00" r="5.6" fill="#525252"/>
<circle cx="221.27" cy="387.73" r="5.6" fill="#525252"/>
<circle cx="223.63" cy="387.47" r="5.6" fill="#525252"/>
<circle cx="226.00" cy="387.20" r="5.6" fill="#525252"/>
<circle cx="224.90" cy="385.90" r="2.8" fill="url(#ghl)"/>
<circle cx="245.20" cy="388.00" r="5.6" fill="#525252"/>
<circle cx="247.57" cy="387.73" r="5.6" fill="#525252"/>
<circle cx="249.93" cy="387.47" r="5.6" fill="#525252"/>
<circle cx="252.30" cy="387.20" r="5.6" fill="#525252"/>
<circle cx="251.20" cy="385.90" r="2.8" fill="url(#ghl)"/>
<circle cx="268.80" cy="388.00" r="5.6" fill="#525252"/>
<circle cx="267.70" cy="386.70" r="2.8" fill="url(#ghl)"/>
<circle cx="274.80" cy="387.20" r="5.6" fill="#525252"/>
<circle cx="273.70" cy="385.90" r="2.8" fill="url(#ghl)"/>
<circle cx="297.50" cy="388.00" r="5.6" fill="#525252"/>
<circle cx="300.13" cy="387.73" r="5.6" fill="#525252"/>
<circle cx="302.77" cy="387.47" r="5.6" fill="#525252"/>
<circle cx="305.40" cy="387.20" r="5.6" fill="#525252"/>
<circle cx="304.30" cy="385.90" r="2.8" fill="url(#ghl)"/>
<circle cx="34.90" cy="335.80" r="5.6" fill="#ef4545"/>
<circle cx="37.95" cy="335.80" r="5.6" fill="#ef4545"/>
<circle cx="41.00" cy="335.80" r="5.6" fill="#ef4545"/>
<circle cx="39.90" cy="334.50" r="2.8" fill="url(#ghl)"/>
<circle cx="48.90" cy="335.80" r="5.6" fill="#ef4545"/>
<circle cx="47.80" cy="334.50" r="2.8" fill="url(#ghl)"/>
<circle cx="60.70" cy="335.80" r="5.6" fill="#ef4545"/>
<circle cx="63.85" cy="335.80" r="5.6" fill="#ef4545"/>
<circle cx="67.00" cy="335.80" r="5.6" fill="#ef4545"/>
<circle cx="65.90" cy="334.50" r="2.8" fill="url(#ghl)"/>
<circle cx="82.30" cy="335.80" r="5.6" fill="#ef4545"/>
<circle cx="81.20" cy="334.50" r="2.8" fill="url(#ghl)"/>
<circle cx="88.40" cy="335.80" r="5.6" fill="#ef4545"/>
<circle cx="87.30" cy="334.50" r="2.8" fill="url(#ghl)"/>
<circle cx="111.60" cy="335.80" r="5.6" fill="#ef4545"/>
<circle cx="114.23" cy="335.80" r="5.6" fill="#ef4545"/>
<circle cx="116.87" cy="335.80" r="5.6" fill="#ef4545"/>
<circle cx="119.50" cy="335.80" r="5.6" fill="#ef4545"/>
<circle cx="118.40" cy="334.50" r="2.8" fill="url(#ghl)"/>
<circle cx="138.40" cy="335.80" r="5.6" fill="#ef4545"/>
<circle cx="140.97" cy="335.80" r="5.6" fill="#ef4545"/>
<circle cx="143.53" cy="335.80" r="5.6" fill="#ef4545"/>
<circle cx="146.10" cy="335.80" r="5.6" fill="#ef4545"/>
<circle cx="145.00" cy="334.50" r="2.8" fill="url(#ghl)"/>
<circle cx="165.80" cy="335.80" r="5.6" fill="#ef4545"/>
<circle cx="168.17" cy="335.80" r="5.6" fill="#ef4545"/>
<circle cx="170.53" cy="335.80" r="5.6" fill="#ef4545"/>
<circle cx="172.90" cy="335.80" r="5.6" fill="#ef4545"/>
<circle cx="171.80" cy="334.50" r="2.8" fill="url(#ghl)"/>
<circle cx="192.00" cy="335.80" r="5.6" fill="#ef4545"/>
<circle cx="194.37" cy="335.80" r="5.6" fill="#ef4545"/>
<circle cx="196.73" cy="335.80" r="5.6" fill="#ef4545"/>
<circle cx="199.10" cy="335.80" r="5.6" fill="#ef4545"/>
<circle cx="198.00" cy="334.50" r="2.8" fill="url(#ghl)"/>
<circle cx="218.90" cy="335.80" r="5.6" fill="#ef4545"/>
<circle cx="221.27" cy="335.80" r="5.6" fill="#ef4545"/>
<circle cx="223.63" cy="335.80" r="5.6" fill="#ef4545"/>
<circle cx="226.00" cy="335.80" r="5.6" fill="#ef4545"/>
<circle cx="224.90" cy="334.50" r="2.8" fill="url(#ghl)"/>
<circle cx="245.20" cy="335.80" r="5.6" fill="#ef4545"/>
<circle cx="247.57" cy="335.80" r="5.6" fill="#ef4545"/>
<circle cx="249.93" cy="335.80" r="5.6" fill="#ef4545"/>
<circle cx="252.30" cy="335.80" r="5.6" fill="#ef4545"/>
<circle cx="251.20" cy="334.50" r="2.8" fill="url(#ghl)"/>
<circle cx="268.80" cy="335.80" r="5.6" fill="#ef4545"/>
<circle cx="267.70" cy="334.50" r="2.8" fill="url(#ghl)"/>
<circle cx="274.80" cy="335.80" r="5.6" fill="#ef4545"/>
<circle cx="273.70" cy="334.50" r="2.8" fill="url(#ghl)"/>
<circle cx="297.50" cy="335.80" r="5.6" fill="#ef4545"/>
<circle cx="300.13" cy="335.80" r="5.6" fill="#ef4545"/>
<circle cx="302.77" cy="335.80" r="5.6" fill="#ef4545"/>
<circle cx="305.40" cy="335.80" r="5.6" fill="#ef4545"/>
<circle cx="304.30" cy="334.50" r="2.8" fill="url(#ghl)"/>
</g>
<g id="panelE">
<text x="356.40" y="322.80" font-family='"Liberation Sans", sans-serif' font-size="15.3" fill="#1a1a1a" text-anchor="start" font-weight="normal" >(e)</text>
<line x1="381.9" y1="328.2" x2="656.4" y2="328.2" stroke="#111" stroke-width="1.8"/>
<line x1="381.9" y1="441.8" x2="656.4" y2="441.8" stroke="#111" stroke-width="1.8"/>
<line x1="381.9" y1="328.2" x2="381.9" y2="441.8" stroke="#111" stroke-width="1.8"/>
<line x1="656.4" y1="328.2" x2="656.4" y2="441.8" stroke="#ff0000" stroke-width="1.8"/>
<line x1="377.4" y1="441.80" x2="381.9" y2="441.80" stroke="#111" stroke-width="1.2"/>
<line x1="656.4" y1="441.80" x2="660.9" y2="441.80" stroke="#ff0000" stroke-width="1.2"/>
<text x="375.90" y="445.00" font-family='"Liberation Serif", serif' font-size="10" fill="#1a1a1a" text-anchor="end" font-weight="normal" stroke="#000" stroke-width="0.15">0</text>
<text x="662.20" y="445.20" font-family='"Liberation Serif", serif' font-size="10.4" fill="#ff0000" text-anchor="start" font-weight="normal" stroke="#ff0000" stroke-width="0.15">0</text>
<line x1="379.29999999999995" y1="431.32" x2="381.9" y2="431.32" stroke="#111" stroke-width="1.2"/>
<line x1="656.4" y1="431.32" x2="659.0" y2="431.32" stroke="#ff0000" stroke-width="1.2"/>
<line x1="377.4" y1="420.84" x2="381.9" y2="420.84" stroke="#111" stroke-width="1.2"/>
<line x1="656.4" y1="420.84" x2="660.9" y2="420.84" stroke="#ff0000" stroke-width="1.2"/>
<text x="375.90" y="424.04" font-family='"Liberation Serif", serif' font-size="10" fill="#1a1a1a" text-anchor="end" font-weight="normal" stroke="#000" stroke-width="0.15">20</text>
<text x="662.20" y="424.24" font-family='"Liberation Serif", serif' font-size="10.4" fill="#ff0000" text-anchor="start" font-weight="normal" stroke="#ff0000" stroke-width="0.15">20</text>
<line x1="379.29999999999995" y1="410.36" x2="381.9" y2="410.36" stroke="#111" stroke-width="1.2"/>
<line x1="656.4" y1="410.36" x2="659.0" y2="410.36" stroke="#ff0000" stroke-width="1.2"/>
<line x1="377.4" y1="399.88" x2="381.9" y2="399.88" stroke="#111" stroke-width="1.2"/>
<line x1="656.4" y1="399.88" x2="660.9" y2="399.88" stroke="#ff0000" stroke-width="1.2"/>
<text x="375.90" y="403.08" font-family='"Liberation Serif", serif' font-size="10" fill="#1a1a1a" text-anchor="end" font-weight="normal" stroke="#000" stroke-width="0.15">40</text>
<text x="662.20" y="403.28" font-family='"Liberation Serif", serif' font-size="10.4" fill="#ff0000" text-anchor="start" font-weight="normal" stroke="#ff0000" stroke-width="0.15">40</text>
<line x1="379.29999999999995" y1="389.40" x2="381.9" y2="389.40" stroke="#111" stroke-width="1.2"/>
<line x1="656.4" y1="389.40" x2="659.0" y2="389.40" stroke="#ff0000" stroke-width="1.2"/>
<line x1="377.4" y1="378.92" x2="381.9" y2="378.92" stroke="#111" stroke-width="1.2"/>
<line x1="656.4" y1="378.92" x2="660.9" y2="378.92" stroke="#ff0000" stroke-width="1.2"/>
<text x="375.90" y="382.12" font-family='"Liberation Serif", serif' font-size="10" fill="#1a1a1a" text-anchor="end" font-weight="normal" stroke="#000" stroke-width="0.15">60</text>
<text x="662.20" y="382.32" font-family='"Liberation Serif", serif' font-size="10.4" fill="#ff0000" text-anchor="start" font-weight="normal" stroke="#ff0000" stroke-width="0.15">60</text>
<line x1="379.29999999999995" y1="368.44" x2="381.9" y2="368.44" stroke="#111" stroke-width="1.2"/>
<line x1="656.4" y1="368.44" x2="659.0" y2="368.44" stroke="#ff0000" stroke-width="1.2"/>
<line x1="377.4" y1="357.96" x2="381.9" y2="357.96" stroke="#111" stroke-width="1.2"/>
<line x1="656.4" y1="357.96" x2="660.9" y2="357.96" stroke="#ff0000" stroke-width="1.2"/>
<text x="375.90" y="361.16" font-family='"Liberation Serif", serif' font-size="10" fill="#1a1a1a" text-anchor="end" font-weight="normal" stroke="#000" stroke-width="0.15">80</text>
<text x="662.20" y="361.36" font-family='"Liberation Serif", serif' font-size="10.4" fill="#ff0000" text-anchor="start" font-weight="normal" stroke="#ff0000" stroke-width="0.15">80</text>
<line x1="379.29999999999995" y1="347.48" x2="381.9" y2="347.48" stroke="#111" stroke-width="1.2"/>
<line x1="656.4" y1="347.48" x2="659.0" y2="347.48" stroke="#ff0000" stroke-width="1.2"/>
<line x1="377.4" y1="337.00" x2="381.9" y2="337.00" stroke="#111" stroke-width="1.2"/>
<line x1="656.4" y1="337.00" x2="660.9" y2="337.00" stroke="#ff0000" stroke-width="1.2"/>
<text x="375.90" y="340.20" font-family='"Liberation Serif", serif' font-size="10" fill="#1a1a1a" text-anchor="end" font-weight="normal" stroke="#000" stroke-width="0.15">100</text>
<text x="662.20" y="340.40" font-family='"Liberation Serif", serif' font-size="10.4" fill="#ff0000" text-anchor="start" font-weight="normal" stroke="#ff0000" stroke-width="0.15">100</text>
<text x="388.00" y="454.00" font-family='"Liberation Serif", serif' font-size="9" fill="#1a1a1a" text-anchor="middle" font-weight="bold" >1</text>
<text x="421.00" y="454.00" font-family='"Liberation Serif", serif' font-size="9" fill="#1a1a1a" text-anchor="middle" font-weight="bold" >2</text>
<text x="449.90" y="454.00" font-family='"Liberation Serif", serif' font-size="9" fill="#1a1a1a" text-anchor="middle" font-weight="bold" >3</text>
<text x="480.10" y="454.00" font-family='"Liberation Serif", serif' font-size="9" fill="#1a1a1a" text-anchor="middle" font-weight="bold" >4</text>
<text x="513.20" y="454.00" font-family='"Liberation Serif", serif' font-size="9" fill="#1a1a1a" text-anchor="middle" font-weight="bold" >5</text>
<text x="544.90" y="454.00" font-family='"Liberation Serif", serif' font-size="9" fill="#1a1a1a" text-anchor="middle" font-weight="bold" >6</text>
<text x="575.00" y="454.00" font-family='"Liberation Serif", serif' font-size="9" fill="#1a1a1a" text-anchor="middle" font-weight="bold" >7</text>
<text x="607.70" y="454.00" font-family='"Liberation Serif", serif' font-size="9" fill="#1a1a1a" text-anchor="middle" font-weight="bold" >8</text>
<text x="638.90" y="454.00" font-family='"Liberation Serif", serif' font-size="9" fill="#1a1a1a" text-anchor="middle" font-weight="bold" >9</text>
<text x="508.60" y="465.80" font-family='"Liberation Serif", serif' font-size="9.6" fill="#000" text-anchor="middle" font-weight="normal" stroke="#000" stroke-width="0.15">Cycle Test</text>
<text x="0.00" y="0.00" font-family='"Liberation Serif", serif' font-size="12.6" fill="#000" text-anchor="middle" font-weight="normal" transform="translate(356.0,384.2) rotate(-90)" stroke="#000" stroke-width="0.15">CO<tspan font-size="8.7" dy="2.8">2</tspan><tspan dy="-2.8"> conversion (%)</tspan></text>
<text x="0.00" y="0.00" font-family='"Liberation Serif", serif' font-size="12.6" fill="#ff0000" text-anchor="middle" font-weight="normal" transform="translate(683.3,386.0) rotate(-90)" stroke="#ff0000" stroke-width="0.15">CO Selectivity (%)</text>
<circle cx="391.50" cy="438.80" r="5.5" fill="url(#gblk2)"/>
<circle cx="391.90" cy="432.40" r="5.5" fill="url(#gblk2)"/>
<circle cx="392.50" cy="421.50" r="5.5" fill="url(#gblk2)"/>
<circle cx="393.10" cy="409.70" r="5.5" fill="url(#gblk2)"/>
<circle cx="394.00" cy="398.10" r="5.5" fill="url(#gblk2)"/>
<circle cx="394.60" cy="386.20" r="5.5" fill="url(#gblk2)"/>
<circle cx="421.80" cy="437.10" r="5.5" fill="url(#gblk2)"/>
<circle cx="422.90" cy="429.70" r="5.5" fill="url(#gblk2)"/>
<circle cx="423.50" cy="418.10" r="5.5" fill="url(#gblk2)"/>
<circle cx="424.00" cy="405.90" r="5.5" fill="url(#gblk2)"/>
<circle cx="424.40" cy="394.90" r="5.5" fill="url(#gblk2)"/>
<circle cx="425.00" cy="386.50" r="5.5" fill="url(#gblk2)"/>
<circle cx="450.10" cy="436.00" r="5.5" fill="url(#gblk2)"/>
<circle cx="450.30" cy="426.50" r="5.5" fill="url(#gblk2)"/>
<circle cx="451.00" cy="414.70" r="5.5" fill="url(#gblk2)"/>
<circle cx="451.40" cy="403.80" r="5.5" fill="url(#gblk2)"/>
<circle cx="452.60" cy="394.90" r="5.5" fill="url(#gblk2)"/>
<circle cx="453.50" cy="386.90" r="5.5" fill="url(#gblk2)"/>
<circle cx="481.20" cy="436.70" r="5.5" fill="url(#gblk2)"/>
<circle cx="481.80" cy="426.50" r="5.5" fill="url(#gblk2)"/>
<circle cx="482.20" cy="415.80" r="5.5" fill="url(#gblk2)"/>
<circle cx="482.70" cy="405.90" r="5.5" fill="url(#gblk2)"/>
<circle cx="483.30" cy="396.40" r="5.5" fill="url(#gblk2)"/>
<circle cx="484.10" cy="386.50" r="5.5" fill="url(#gblk2)"/>
<circle cx="513.90" cy="436.70" r="5.5" fill="url(#gblk2)"/>
<circle cx="514.30" cy="427.00" r="5.5" fill="url(#gblk2)"/>
<circle cx="514.90" cy="415.80" r="5.5" fill="url(#gblk2)"/>
<circle cx="515.40" cy="405.90" r="5.5" fill="url(#gblk2)"/>
<circle cx="515.80" cy="396.40" r="5.5" fill="url(#gblk2)"/>
<circle cx="517.50" cy="387.90" r="5.5" fill="url(#gblk2)"/>
<circle cx="546.40" cy="436.70" r="5.5" fill="url(#gblk2)"/>
<circle cx="547.00" cy="427.40" r="5.5" fill="url(#gblk2)"/>
<circle cx="547.60" cy="415.80" r="5.5" fill="url(#gblk2)"/>
<circle cx="548.10" cy="406.30" r="5.5" fill="url(#gblk2)"/>
<circle cx="548.90" cy="396.40" r="5.5" fill="url(#gblk2)"/>
<circle cx="549.50" cy="387.30" r="5.5" fill="url(#gblk2)"/>
<circle cx="575.00" cy="437.00" r="5.5" fill="url(#gblk2)"/>
<circle cx="575.90" cy="428.10" r="5.5" fill="url(#gblk2)"/>
<circle cx="576.50" cy="417.00" r="5.5" fill="url(#gblk2)"/>
<circle cx="577.50" cy="406.50" r="5.5" fill="url(#gblk2)"/>
<circle cx="577.50" cy="397.30" r="5.5" fill="url(#gblk2)"/>
<circle cx="578.40" cy="388.40" r="5.5" fill="url(#gblk2)"/>
<circle cx="608.30" cy="437.00" r="5.5" fill="url(#gblk2)"/>
<circle cx="608.70" cy="428.10" r="5.5" fill="url(#gblk2)"/>
<circle cx="609.30" cy="417.00" r="5.5" fill="url(#gblk2)"/>
<circle cx="610.30" cy="406.50" r="5.5" fill="url(#gblk2)"/>
<circle cx="610.90" cy="397.30" r="5.5" fill="url(#gblk2)"/>
<circle cx="611.50" cy="387.70" r="5.5" fill="url(#gblk2)"/>
<circle cx="638.20" cy="437.00" r="5.5" fill="url(#gblk2)"/>
<circle cx="638.90" cy="428.10" r="5.5" fill="url(#gblk2)"/>
<circle cx="639.50" cy="417.00" r="5.5" fill="url(#gblk2)"/>
<circle cx="640.50" cy="406.50" r="5.5" fill="url(#gblk2)"/>
<circle cx="641.10" cy="397.30" r="5.5" fill="url(#gblk2)"/>
<circle cx="642.10" cy="387.70" r="5.5" fill="url(#gblk2)"/>
<circle cx="392.30" cy="339.3" r="6.6" fill="url(#grede)"/>
<circle cx="393.60" cy="337.3" r="6.6" fill="url(#grede)"/>
<circle cx="419.30" cy="338.4" r="6.6" fill="url(#grede)"/>
<circle cx="420.30" cy="337.3" r="6.6" fill="url(#grede)"/>
<circle cx="447.20" cy="338.4" r="6.6" fill="url(#grede)"/>
<circle cx="448.20" cy="337.3" r="6.6" fill="url(#grede)"/>
<circle cx="480.70" cy="338.4" r="6.6" fill="url(#grede)"/>
<circle cx="481.70" cy="337.3" r="6.6" fill="url(#grede)"/>
<circle cx="514.10" cy="338.4" r="6.6" fill="url(#grede)"/>
<circle cx="515.10" cy="337.3" r="6.6" fill="url(#grede)"/>
<circle cx="547.10" cy="338.4" r="6.6" fill="url(#grede)"/>
<circle cx="548.10" cy="337.3" r="6.6" fill="url(#grede)"/>
<circle cx="578.50" cy="338.4" r="6.6" fill="url(#grede)"/>
<circle cx="579.50" cy="337.3" r="6.6" fill="url(#grede)"/>
<circle cx="609.70" cy="338.4" r="6.6" fill="url(#grede)"/>
<circle cx="610.70" cy="337.3" r="6.6" fill="url(#grede)"/>
<circle cx="641.80" cy="338.4" r="6.6" fill="url(#grede)"/>
<circle cx="642.80" cy="337.3" r="6.6" fill="url(#grede)"/>
</g>
</svg>
</body></html>
